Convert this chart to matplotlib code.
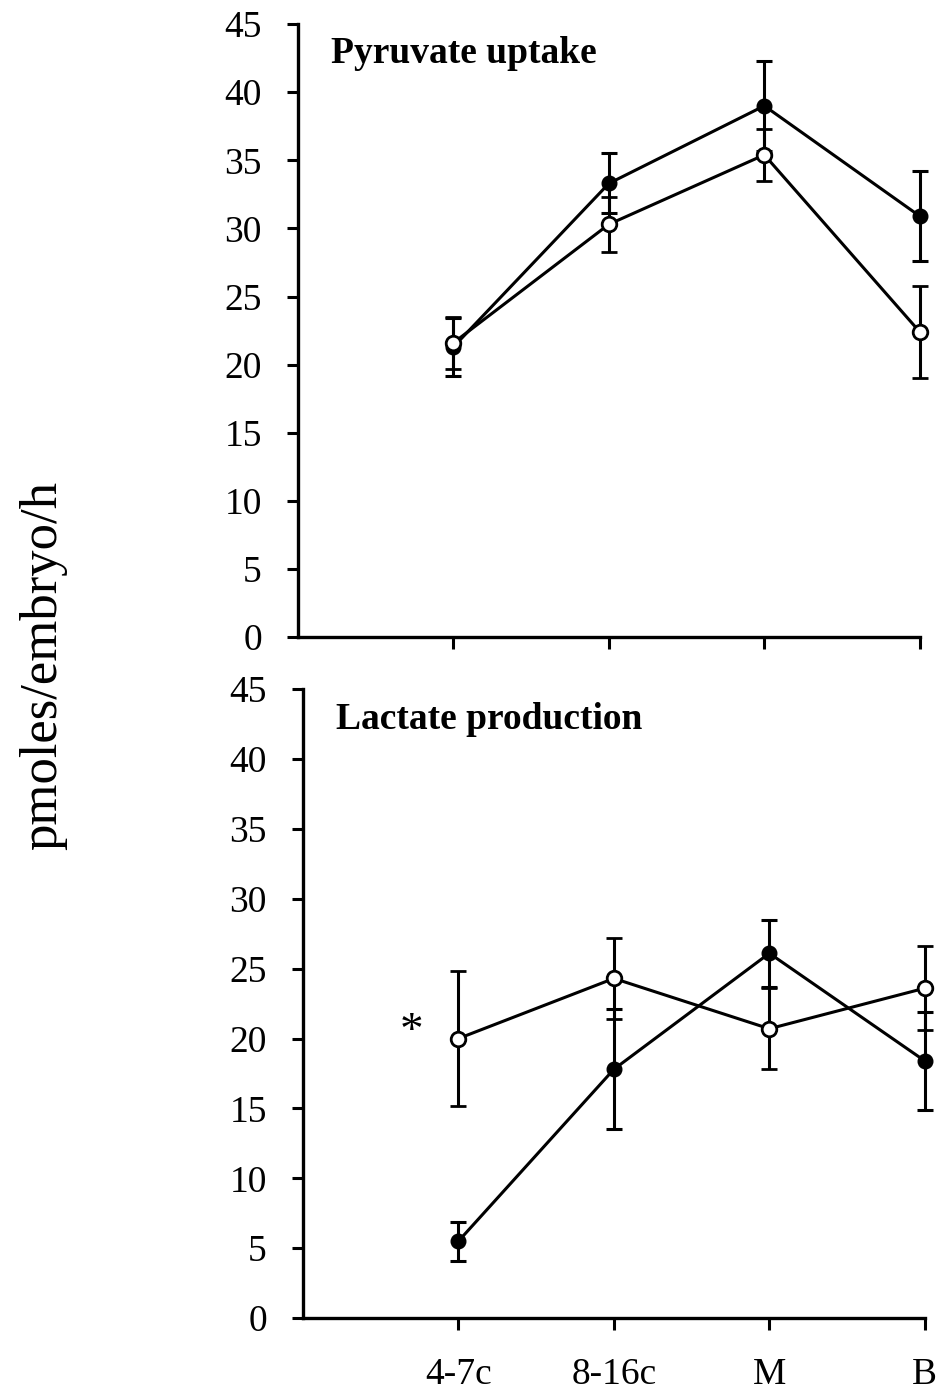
import matplotlib
matplotlib.use('Agg')
import matplotlib.pyplot as plt

# Data
stages = ['4-7c', '8-16c', 'M', 'B']

pyr_filled = [21.3, 33.3, 39.0, 30.9]
pyr_filled_err = [2.1, 2.2, 3.3, 3.3]
pyr_open = [21.6, 30.3, 35.4, 22.4]
pyr_open_err = [1.9, 2.0, 1.9, 3.4]

lac_filled = [5.5, 17.8, 26.1, 18.4]
lac_filled_err = [1.4, 4.3, 2.4, 3.5]
lac_open = [20.0, 24.3, 20.7, 23.6]
lac_open_err = [4.8, 2.9, 2.9, 3.0]

plt.rcParams['font.family'] = ['Liberation Serif', 'DejaVu Serif']

fig = plt.figure(figsize=(9.45, 13.93), dpi=100)
ax1 = fig.add_axes([0.3153, 0.5427, 0.658, 0.440])
ax2 = fig.add_axes([0.3206, 0.0538, 0.658, 0.4515])

x = list(range(len(stages)))


def draw_panel(ax, filled, filled_err, opn, opn_err, title, show_labels):
	# filled series
	eb = ax.errorbar(x, filled, yerr=filled_err, fmt='-o', color='black', lw=2.2,
				ms=10.5, mfc='black', mec='black', ecolor='black', elinewidth=2.2,
				capsize=5.5, capthick=2.2, zorder=3)
	for art in eb.get_children():
		art.set_clip_on(False)
	# open series
	eb = ax.errorbar(x, opn, yerr=opn_err, fmt='-o', color='black', lw=2.2,
				ms=10.5, mfc='white', mec='black', mew=2.0, ecolor='black',
				elinewidth=2.2, capsize=5.5, capthick=2.2, zorder=4)
	for art in eb.get_children():
		art.set_clip_on(False)

	ax.set_xlim(-1.0, 3.0)
	ax.set_ylim(0, 45)
	ax.set_yticks(range(0, 50, 5))
	ax.set_xticks(x)
	if show_labels:
		ax.set_xticklabels(stages)
	else:
		ax.set_xticklabels([])

	for s in ['top', 'right']:
		ax.spines[s].set_visible(False)
	for s in ['left', 'bottom']:
		ax.spines[s].set_linewidth(2.4)

	ax.tick_params(axis='y', direction='out', length=8, width=2.2, labelsize=27, pad=18)
	ax.tick_params(axis='x', direction='out', length=8.5, width=2.2, labelsize=27, pad=20)

	ax.text(0.053, 0.952, title, transform=ax.transAxes, fontsize=27,
			fontweight='bold', ha='left', va='center')


draw_panel(ax1, pyr_filled, pyr_filled_err, pyr_open, pyr_open_err,
		   'Pyruvate uptake', False)
draw_panel(ax2, lac_filled, lac_filled_err, lac_open, lac_open_err,
		   'Lactate production', True)

# significance mark
ax2.text(-0.3, 20.4, '*', fontsize=34, ha='center', va='center')

fig.text(0.0455, 0.5226, 'pmoles/embryo/h', rotation=90, fontsize=38,
		 ha='center', va='center')

fig.savefig('out.png', dpi=100)
